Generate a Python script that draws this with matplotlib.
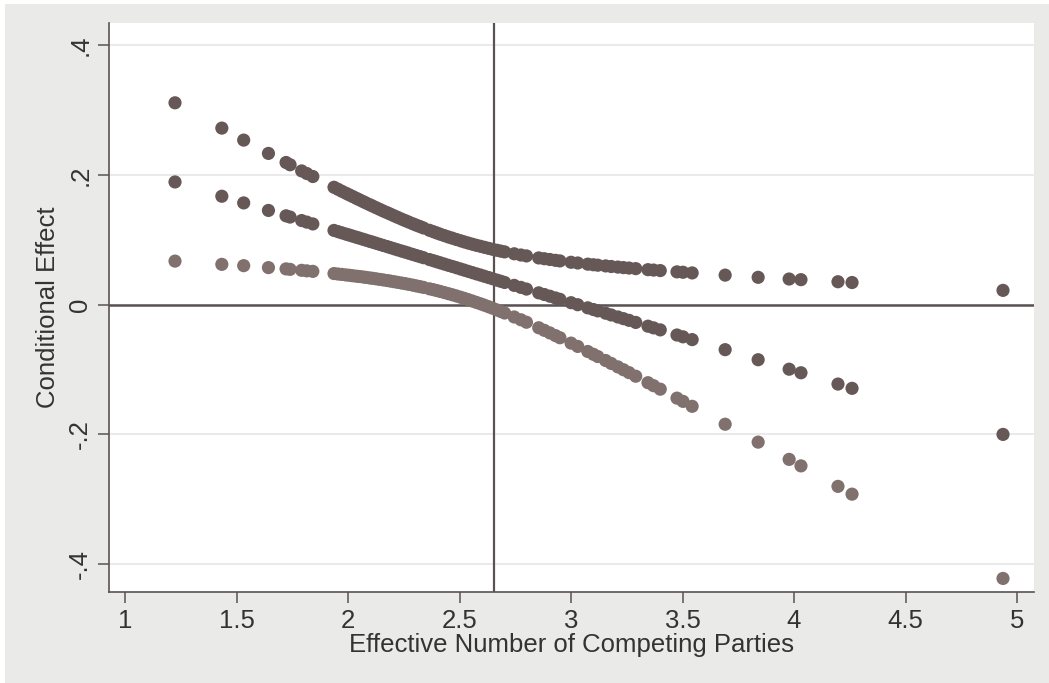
import matplotlib.pyplot as plt
from matplotlib.patches import Rectangle

plt.rcParams['font.family'] = ['Liberation Sans Narrow', 'Liberation Sans', 'DejaVu Sans']

# effective number of competing parties (x) and the three estimates
enp = [1.224, 1.434, 1.532, 1.643, 1.722, 1.740, 1.792, 1.815, 1.842, 1.937,
       1.955, 1.972, 1.990, 2.005, 2.020, 2.036, 2.050, 2.066, 2.080, 2.096,
       2.110, 2.126, 2.142, 2.158, 2.175, 2.190, 2.206, 2.222, 2.240, 2.256,
       2.272, 2.290, 2.306, 2.322, 2.338, 2.365, 2.382, 2.398, 2.414, 2.432,
       2.450, 2.468, 2.486, 2.505, 2.522, 2.540, 2.558, 2.576, 2.594, 2.612,
       2.630, 2.648, 2.668, 2.685, 2.702, 2.745, 2.775, 2.800, 2.855, 2.880,
       2.905, 2.930, 2.950, 3.000, 3.030, 3.075, 3.100, 3.120, 3.155, 3.180,
       3.210, 3.235, 3.260, 3.290, 3.345, 3.370, 3.400, 3.475, 3.502, 3.543,
       3.691, 3.839, 3.978, 4.031, 4.197, 4.260, 4.937]

upper = [0.311, 0.272, 0.2535, 0.233, 0.219, 0.2155, 0.206, 0.202, 0.1974, 0.1808,
         0.1777, 0.1747, 0.1717, 0.1692, 0.1667, 0.1640, 0.1617, 0.1590, 0.1567, 0.1541,
         0.1519, 0.1493, 0.1468, 0.1442, 0.1417, 0.1394, 0.1369, 0.1345, 0.1318, 0.1295,
         0.1272, 0.1246, 0.1224, 0.1203, 0.1181, 0.1145, 0.1124, 0.1104, 0.1084, 0.1063,
         0.1042, 0.1023, 0.1003, 0.0983, 0.0965, 0.0947, 0.0930, 0.0913, 0.0898, 0.0882,
         0.0867, 0.0852, 0.0837, 0.0824, 0.0812, 0.0783, 0.0764, 0.0750, 0.0719, 0.0707,
         0.0695, 0.0682, 0.0673, 0.0652, 0.0641, 0.0623, 0.0614, 0.0607, 0.0596, 0.0587,
         0.0578, 0.0570, 0.0563, 0.0554, 0.0538, 0.0532, 0.0524, 0.0504, 0.0498, 0.0488,
         0.0454, 0.0420, 0.0394, 0.0384, 0.0352, 0.0340, 0.0219]

effect = [0.1890, 0.1670, 0.1567, 0.1451, 0.1368, 0.1349, 0.1295, 0.1271, 0.1243, 0.1143,
          0.1124, 0.1106, 0.1087, 0.1072, 0.1056, 0.1039, 0.1025, 0.1008, 0.0993, 0.0976,
          0.0962, 0.0945, 0.0928, 0.0911, 0.0894, 0.0878, 0.0861, 0.0844, 0.0825, 0.0809,
          0.0792, 0.0773, 0.0756, 0.0740, 0.0723, 0.0694, 0.0677, 0.0660, 0.0643, 0.0624,
          0.0605, 0.0587, 0.0568, 0.0548, 0.0530, 0.0511, 0.0492, 0.0473, 0.0455, 0.0436,
          0.0417, 0.0398, 0.0377, 0.0359, 0.0341, 0.0296, 0.0265, 0.0239, 0.0181, 0.0155,
          0.0129, 0.0102, 0.0081, 0.0029, -0.0002, -0.0050, -0.0076, -0.0097, -0.0133, -0.0160,
          -0.0191, -0.0217, -0.0243, -0.0275, -0.0333, -0.0359, -0.0390, -0.0469, -0.0497, -0.0540,
          -0.0695, -0.0850, -0.0996, -0.1051, -0.1225, -0.1291, -0.2001]

lower = [0.067, 0.062, 0.060, 0.057, 0.055, 0.0543, 0.0528, 0.052, 0.0512, 0.0478,
         0.0471, 0.0465, 0.0457, 0.0452, 0.0445, 0.0438, 0.0433, 0.0426, 0.0419, 0.0411,
         0.0405, 0.0397, 0.0388, 0.0380, 0.0371, 0.0362, 0.0353, 0.0343, 0.0332, 0.0323,
         0.0312, 0.0300, 0.0288, 0.0277, 0.0265, 0.0243, 0.0230, 0.0216, 0.0202, 0.0185,
         0.0168, 0.0151, 0.0133, 0.0113, 0.0095, 0.0075, 0.0054, 0.0033, 0.0012, -0.0010,
         -0.0033, -0.0056, -0.0083, -0.0106, -0.0130, -0.0191, -0.0234, -0.0272, -0.0357, -0.0397,
         -0.0437, -0.0478, -0.0511, -0.0594, -0.0645, -0.0723, -0.0766, -0.0801, -0.0862, -0.0907,
         -0.0960, -0.1004, -0.1049, -0.1104, -0.1204, -0.1250, -0.1304, -0.1442, -0.1492, -0.1568,
         -0.1844, -0.2120, -0.2386, -0.2486, -0.2802, -0.2922, -0.4221]

xticks = [1, 1.5, 2, 2.5, 3, 3.5, 4, 4.5, 5]
xticklabels = ['1', '1.5', '2', '2.5', '3', '3.5', '4', '4.5', '5']
yticks = [-0.4, -0.2, 0, 0.2, 0.4]
yticklabels = ['-.4', '-.2', '0', '.2', '.4']
mean_enp = 2.655

dark = '#655856'
light = '#80716e'
axis_col = '#5a5252'
text_col = '#333333'

fig = plt.figure(figsize=(10.49, 6.83), dpi=100)
fig.patch.set_facecolor('white')
fig.patches.append(Rectangle((5 / 1049, 0), 1, 1 - 4 / 683, transform=fig.transFigure,
                             facecolor='#eaeae8', edgecolor='none', zorder=-10))

ax = fig.add_axes([109 / 1049, 1 - 592 / 683, 925 / 1049, 569 / 683])
ax.set_facecolor('white')

ax.scatter(enp, upper, s=90, color=dark, edgecolors='none', zorder=3)
ax.scatter(enp, effect, s=90, color=dark, edgecolors='none', zorder=3)
ax.scatter(enp, lower, s=90, color=light, edgecolors='none', zorder=3)

ax.axhline(0, color=axis_col, lw=1.8, zorder=2)
ax.axvline(mean_enp, color=axis_col, lw=1.6, zorder=2)

ax.set_xlim(0.928, 5.076)
ax.set_ylim(-0.443, 0.434)
ax.set_xticks(xticks)
ax.set_xticklabels(xticklabels)
ax.set_yticks(yticks)
ax.set_yticklabels(yticklabels, rotation=90, va='center')
ax.grid(axis='y', color='#eaeaea', lw=1.5, zorder=1)
ax.set_axisbelow(True)

for side in ['top', 'right']:
    ax.spines[side].set_visible(False)
for side in ['left', 'bottom']:
    ax.spines[side].set_color(axis_col)
    ax.spines[side].set_linewidth(1.2)

ax.tick_params(axis='both', colors=axis_col, length=8, width=1.1, labelsize=18.5,
               labelcolor=text_col, pad=4)
ax.set_xlabel('Effective Number of Competing Parties', fontsize=18.5, color=text_col, labelpad=0)
ax.set_ylabel('Conditional Effect', fontsize=18.5, color=text_col, labelpad=6)

fig.savefig('out.png', dpi=100, facecolor=fig.get_facecolor())
